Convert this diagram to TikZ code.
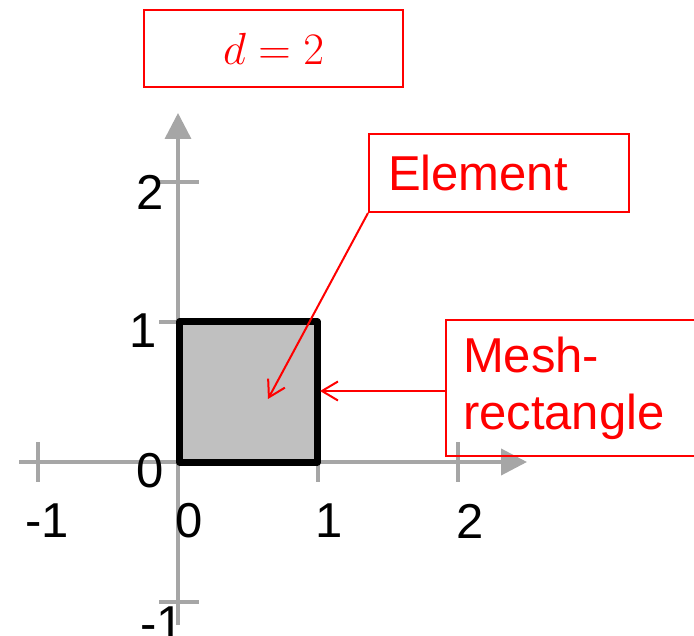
\RequirePackage{fix-cm}
\documentclass[tikz,border=0pt]{standalone}
\usepackage{fontspec}
\setmainfont{Liberation Sans}
\usetikzlibrary{arrows.meta}
\definecolor{axisgray}{RGB}{166,166,166}
\definecolor{fillgray}{RGB}{192,192,192}
\definecolor{pred}{RGB}{255,0,0}
\tikzset{
  axisline/.style={draw=axisgray, line width=4pt},
  ticky/.style={draw=axisgray, line width=4pt},
  lbl/.style={inner sep=0pt, font=\fontsize{49}{57}\selectfont, text=black},
  redbox/.style={draw=pred, line width=2pt, text=pred, font=\fontsize{49}{57}\selectfont},
  redarrow/.style={draw=pred, line width=2pt, -{Straight Barb[length=16pt,width=19pt]}},
}
\begin{document}
\begin{tikzpicture}[x=1pt,y=-1pt]
\useasboundingbox (0,0) rectangle (694,636);
% axes
\coordinate (xs) at (19,462);
\coordinate (xe) at (527,462);
\coordinate (ys) at (178,625);
\coordinate (ye) at (178,113);
\draw[axisline, -{Triangle[length=26pt,width=26pt]}] (xs) -- (xe);
\draw[axisline, line width=3.5pt, -{Triangle[length=26pt,width=26pt]}] (ys) -- (ye);
% ticks on x axis
\foreach \x in {38,178,318,458} {
  \coordinate (ta) at (\x,442);
  \coordinate (tb) at (\x,482);
  \draw[ticky] (ta) -- (tb);
}
% ticks on y axis
\foreach \y in {182,322,602} {
  \coordinate (ta) at (159,\y);
  \coordinate (tb) at (199,\y);
  \draw[ticky] (ta) -- (tb);
}
% labels
\node[lbl, anchor=base east] (y2) at (164,210) {2};
\node[lbl, anchor=base east] (y1) at (157,348) {1};
\node[lbl, anchor=base east] (y0) at (164,487) {0};
\node[lbl, anchor=base east] (ym1) at (184,640) {-1};
\node[lbl, anchor=base west] (xm1) at (25,537) {-1};
\node[lbl, anchor=base west] (x0) at (175,537) {0};
\node[lbl, anchor=base west] (x1) at (315,537) {1};
\node[lbl, anchor=base west] (x2) at (456,538) {2};
% element square
\node[draw=black, fill=fillgray, line width=7pt, line join=round, minimum width=138pt, minimum height=140pt, inner sep=0pt] (sq) at (248.5,392) {};
% boxes
\node[redbox, minimum width=259pt, minimum height=77pt, inner sep=0pt, font=\fontsize{45}{50}\selectfont] (dbox) at (273.5,48.5) {$d=2$};
\node[redbox, text width=222pt, inner xsep=19pt, inner ysep=0pt, minimum height=78pt, align=left] (elem) at (499,173) {Element};
\node[redbox, text width=240pt, inner xsep=17pt, inner ysep=0pt, minimum height=136pt, align=left] (mesh) at (583,388) {Mesh-\\rectangle};
% arrows
\coordinate (etip) at (268,399);
\coordinate (mtip) at (320,391);
\draw[redarrow] (elem.south west) -- (etip);
\draw[redarrow] (mesh.west |- mtip) -- (mtip);
\end{tikzpicture}
\end{document}
